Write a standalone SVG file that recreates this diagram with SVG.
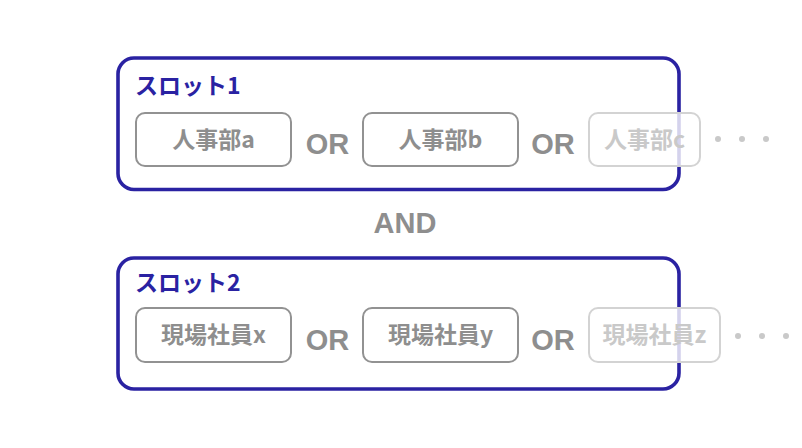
<svg xmlns="http://www.w3.org/2000/svg" width="802" height="448" viewBox="0 0 802 448">
<style>
.slot{fill:none;stroke:#2a22a2;stroke-width:3.6}
.lbl{font-family:"Noto Sans CJK JP","Noto Sans",sans-serif;font-weight:700;font-size:23px;fill:#2a22a2}
.box{fill:#fff;stroke:#929292;stroke-width:2}
.btxt{font-family:"Noto Sans CJK JP","Noto Sans",sans-serif;font-weight:700;font-size:23px;fill:#8e8e8e;text-anchor:middle}
.fbox{fill:#fff;fill-opacity:0.8;stroke:#d3d3d3;stroke-width:2}
.ftxt{font-family:"Noto Sans CJK JP","Noto Sans",sans-serif;font-weight:700;font-size:23px;fill:#c9c9c9;text-anchor:middle}
.op{font-family:"Liberation Sans",Arial,sans-serif;font-weight:700;font-size:29px;fill:#8e8e8e;text-anchor:middle}
.dot{fill:#c9c9c9}
</style>
<rect width="802" height="448" fill="#fff"/>
<g id="slot1">
<rect class="slot" x="118" y="58" width="561" height="131.5" rx="16"/>
<text class="lbl" x="135" y="94">スロット1</text>
</g>
<g id="slot2">
<rect class="slot" x="118" y="258" width="561" height="131" rx="16"/>
<text class="lbl" x="135" y="291">スロット2</text>
</g>
<g id="hr-a"><rect class="box" x="136" y="113" width="155" height="53" rx="9"/><text class="btxt" x="213.5" y="147.5">人事部a</text></g>
<g id="hr-b"><rect class="box" x="363" y="113" width="155" height="53" rx="9"/><text class="btxt" x="440.5" y="147.5">人事部b</text></g>
<g id="hr-c"><rect class="fbox" x="589" y="113" width="111" height="53" rx="9"/><text class="ftxt" x="644.5" y="147.5">人事部c</text></g>
<g id="st-x"><rect class="box" x="136" y="308" width="155" height="54" rx="9"/><text class="btxt" x="213.5" y="343">現場社員x</text></g>
<g id="st-y"><rect class="box" x="363" y="308" width="155" height="54" rx="9"/><text class="btxt" x="440.5" y="343">現場社員y</text></g>
<g id="st-z"><rect class="fbox" x="589" y="308" width="131" height="54" rx="9"/><text class="ftxt" x="654.5" y="343">現場社員z</text></g>
<g id="operators">
<text class="op" x="327.5" y="154">OR</text>
<text class="op" x="553" y="154">OR</text>
<text class="op" x="327.5" y="350">OR</text>
<text class="op" x="553" y="350">OR</text>
<text class="op" x="405" y="233">AND</text>
</g>
<g id="ellipsis">
<circle class="dot" cx="718" cy="139" r="3"/><circle class="dot" cx="742" cy="139" r="3"/><circle class="dot" cx="766" cy="139" r="3"/>
<circle class="dot" cx="738" cy="336" r="3"/><circle class="dot" cx="762" cy="336" r="3"/><circle class="dot" cx="786" cy="336" r="3"/>
</g>
</svg>
